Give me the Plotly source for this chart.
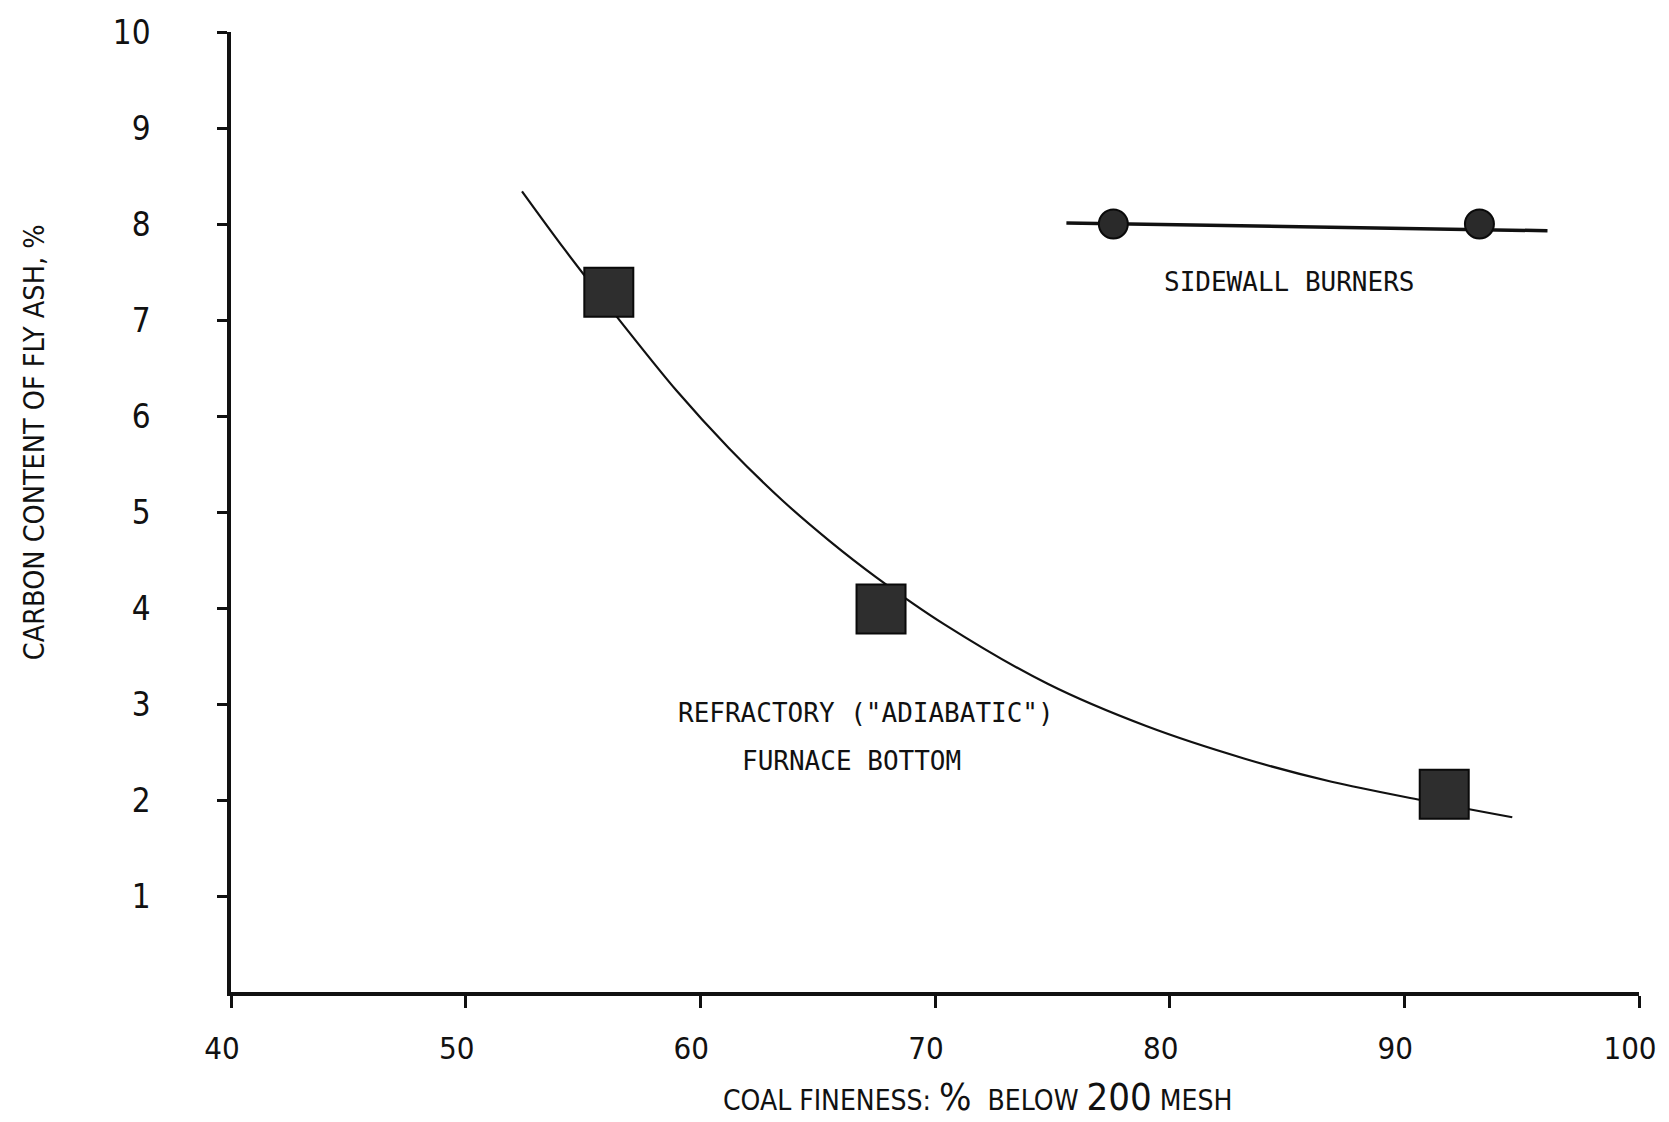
import plotly.graph_objects as go

# ---- data ----
curve_x = [52.4, 54.2, 56.1, 59.0, 61.2, 63.5, 65.5, 67.5, 70.4, 74.8, 79.0, 83.2, 86.9, 90.7, 94.6]
curve_y = [8.34, 7.74, 7.14, 6.26, 5.67, 5.12, 4.70, 4.32, 3.83, 3.21, 2.77, 2.43, 2.19, 2.00, 1.82]

refractory_x = [56.1, 67.7, 91.7]
refractory_y = [7.29, 3.99, 2.06]

sidewall_line_x = [75.6, 96.1]
sidewall_line_y = [8.01, 7.93]
sidewall_x = [77.6, 93.2]
sidewall_y = [8.00, 8.00]

x_ticks = [40, 50, 60, 70, 80, 90, 100]
x_tick_labels = ["40", "50", "60", "70", "80", "90", "100"]
y_ticks = [1, 2, 3, 4, 5, 6, 7, 8, 9, 10]
y_tick_labels = ["1", "2", "3", "4", "5", "6", "7", "8", "9", "10"]

TICK_FONT = "DejaVu Sans Condensed, Liberation Sans Narrow, DejaVu Sans, sans-serif"
LABEL_FONT = "DejaVu Sans Mono, Liberation Mono, monospace"
TITLE_FONT = "DejaVu Sans Condensed, Liberation Sans Narrow, DejaVu Sans, sans-serif"
INK = "#111111"

fig = go.Figure()

fig.add_trace(go.Scatter(
    x=curve_x, y=curve_y, mode="lines",
    line=dict(color=INK, width=2.2, shape="spline", smoothing=0.9),
    showlegend=False, hoverinfo="skip"))

fig.add_trace(go.Scatter(
    x=sidewall_line_x, y=sidewall_line_y, mode="lines",
    line=dict(color=INK, width=3.5),
    showlegend=False, hoverinfo="skip"))

fig.add_trace(go.Scatter(
    x=refractory_x, y=refractory_y, mode="markers",
    marker=dict(symbol="square", size=49, color="#2e2e2e",
                line=dict(color="#0a0a0a", width=2)),
    showlegend=False))

fig.add_trace(go.Scatter(
    x=sidewall_x, y=sidewall_y, mode="markers",
    marker=dict(symbol="circle", size=29, color="#2a2a2a",
                line=dict(color="#0a0a0a", width=2)),
    showlegend=False))

# text labels inside the chart
fig.add_annotation(x=85.1, y=7.40, text="SIDEWALL BURNERS", showarrow=False,
                   font=dict(family=LABEL_FONT, size=26, color=INK))
fig.add_annotation(x=67.05, y=2.91, text='REFRACTORY ("ADIABATIC")', showarrow=False,
                   font=dict(family=LABEL_FONT, size=26, color=INK))
fig.add_annotation(x=66.46, y=2.41, text="FURNACE BOTTOM", showarrow=False,
                   font=dict(family=LABEL_FONT, size=26, color=INK))

# axis titles
fig.add_annotation(xref="paper", yref="paper", x=0.530, y=-0.109,
                   text="COAL FINENESS: <span style='font-size:38px'>%</span>  BELOW <span style='font-size:38px'>200</span> MESH",
                   showarrow=False, xanchor="center", yanchor="middle",
                   font=dict(family=TITLE_FONT, size=28, color=INK))
fig.add_annotation(xref="paper", yref="paper", x=-0.139, y=0.573,
                   text="CARBON CONTENT OF FLY ASH, %", textangle=-90,
                   showarrow=False, xanchor="center", yanchor="middle",
                   font=dict(family=TITLE_FONT, size=28.5, color=INK))

fig.update_xaxes(range=[40, 100], tickvals=x_ticks, ticktext=x_tick_labels,
                 showline=True, linecolor=INK, linewidth=3.5,
                 ticks="outside", ticklen=12, tickwidth=2.5, tickcolor=INK,
                 showgrid=False, zeroline=False, ticklabelstandoff=14,
                 ticklabelshift=-9, ticklabeloverflow="allow",
                 tickfont=dict(family=TICK_FONT, size=31, color=INK))
fig.update_yaxes(range=[0, 10], tickvals=y_ticks, ticktext=y_tick_labels,
                 showline=True, linecolor=INK, linewidth=3.5,
                 ticks="outside", ticklen=10, tickwidth=2.5, tickcolor=INK,
                 showgrid=False, zeroline=False, ticklabelstandoff=60,
                 tickfont=dict(family=TICK_FONT, size=33, color=INK))

fig.update_layout(width=1669, height=1122,
                  margin=dict(l=231, r=19, t=32, b=130),
                  paper_bgcolor="white", plot_bgcolor="white",
                  showlegend=False)

# remove the default page margin so the figure fills the window exactly
fig.write_html("out.html",
               config={"displayModeBar": False},
               post_script="document.body.style.margin='0px';"
                           "document.documentElement.style.overflow='hidden';"
                           "document.body.style.overflow='hidden';")
